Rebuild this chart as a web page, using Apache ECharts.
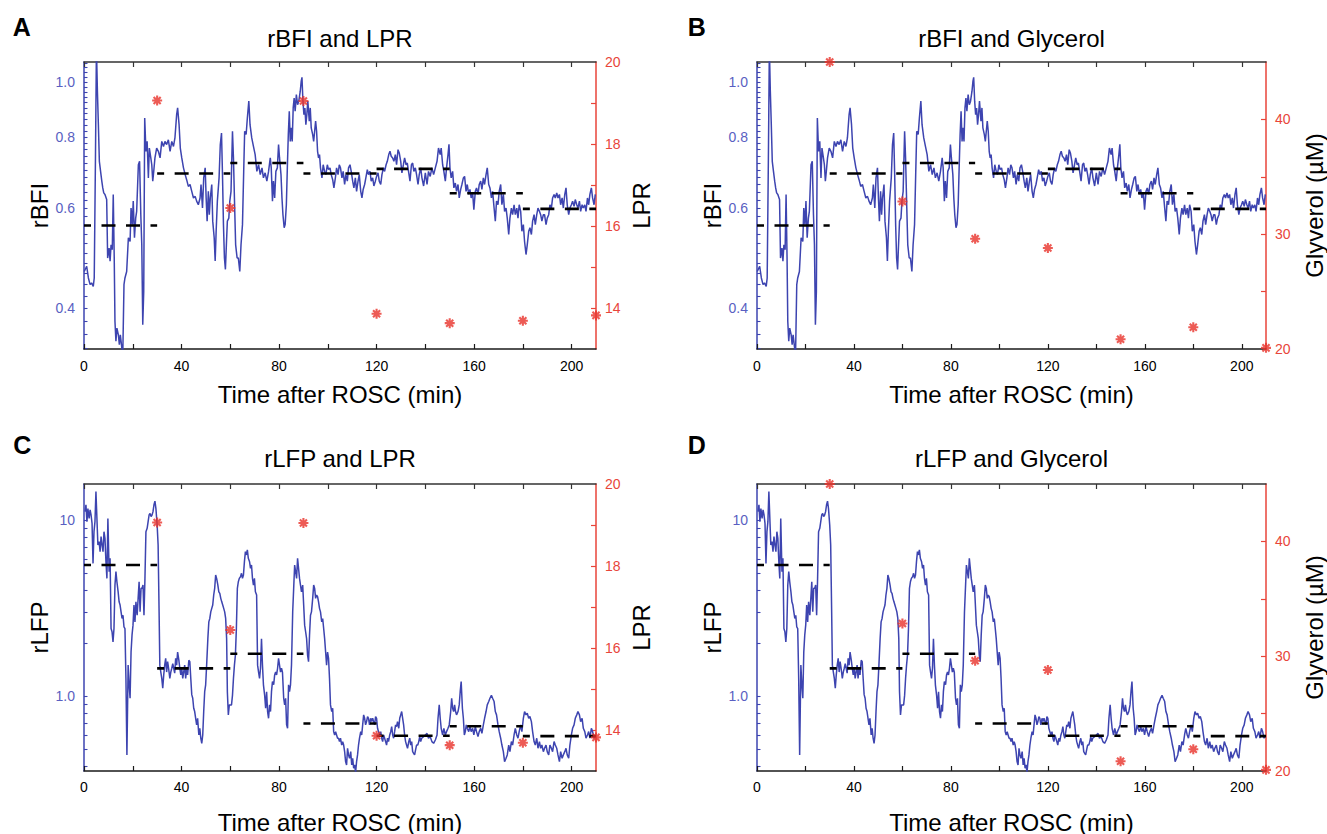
<!DOCTYPE html>
<html><head><meta charset="utf-8">
<script src="https://cdn.jsdelivr.net/npm/echarts@6/dist/echarts.min.js"></script>
<style>html,body{margin:0;padding:0;background:#fff}#c{width:1327px;height:834px}</style>
</head><body><div id="c"></div>
<script>
// ---------- DATA ----------
const rBFI_t = [0.1,1.1,1.8,2.5,3.1,3.8,4.2,4.7,5.1,5.5,5.9,6.3,6.8,7.3,7.7,8.1,8.6,9.3,9.7,10.3,10.7,11.1,11.6,12.0,12.4,12.7,13.1,13.5,14.1,14.5,14.9,15.5,15.9,16.4,16.8,17.5,18.2,18.9,19.3,19.8,20.2,20.7,21.2,21.6,22.3,22.8,23.3,23.7,24.1,24.5,24.9,25.4,25.9,26.4,26.8,27.4,27.8,28.2,28.6,29.1,29.8,30.5,31.2,31.9,32.6,33.2,33.9,34.6,35.3,36.0,36.7,37.3,38.0,38.4,39.0,39.5,40.1,40.8,41.5,42.1,42.8,43.5,44.2,44.9,45.6,46.2,46.9,47.6,48.0,48.6,49.1,49.7,50.1,50.5,51.0,51.4,51.8,52.4,52.8,53.4,53.8,54.2,54.7,55.4,55.9,56.4,56.8,57.2,57.6,58.0,58.4,58.8,59.4,59.8,60.3,60.9,61.3,61.8,62.2,62.8,63.3,63.9,64.4,65.0,65.5,65.9,66.5,67.0,67.6,68.1,68.8,69.5,70.2,70.9,71.6,72.3,73.0,73.6,74.3,75.0,75.7,76.4,76.8,77.3,77.7,78.2,78.7,79.3,79.8,80.2,80.8,81.2,81.6,82.1,82.5,83.0,83.4,83.8,84.2,84.6,85.0,85.4,85.8,86.2,86.6,87.1,87.6,88.1,88.7,89.1,89.4,89.8,90.2,90.6,91.0,91.4,91.8,92.4,92.8,93.2,93.8,94.2,94.6,95.0,95.4,95.8,96.2,96.6,97.0,97.6,98.1,98.7,99.2,99.8,100.3,100.9,101.4,102.0,102.5,103.1,103.6,104.2,104.7,105.2,105.8,106.3,106.9,107.4,108.0,108.5,109.1,109.6,110.2,110.7,111.3,111.8,112.4,112.9,113.5,114.0,114.5,115.1,115.6,116.2,116.7,117.3,117.8,118.4,118.9,119.5,120.0,120.6,121.1,121.7,122.2,122.8,123.3,123.9,124.4,125.0,125.5,126.0,126.6,127.1,127.7,128.2,128.8,129.3,129.9,130.4,131.0,131.5,132.1,132.6,133.2,133.7,134.3,134.8,135.3,135.9,136.4,137.0,137.5,138.1,138.6,139.3,140.0,140.7,141.3,142.0,142.7,143.4,144.1,144.8,145.4,146.1,146.5,147.1,147.6,148.2,148.7,149.3,149.7,150.1,150.6,151.2,151.7,152.3,152.8,153.4,153.9,154.5,155.0,155.6,156.1,156.7,157.2,157.8,158.3,158.8,159.4,159.9,160.5,161.0,161.6,162.1,162.7,163.2,163.8,164.3,164.9,165.4,166.0,166.5,167.1,167.6,168.2,168.7,169.2,169.8,170.3,170.9,171.4,172.0,172.5,173.1,173.6,174.2,174.7,175.3,175.8,176.4,176.9,177.5,178.0,178.5,179.1,179.6,180.2,180.7,181.3,181.8,182.4,182.9,183.5,184.0,184.6,185.1,185.7,186.2,186.8,187.3,187.8,188.4,188.9,189.5,190.0,190.6,191.1,191.7,192.2,192.8,193.3,193.9,194.4,195.0,195.5,196.1,196.6,197.2,197.7,198.2,198.8,199.3,199.9,200.4,201.0,201.5,202.1,202.6,203.2,203.7,204.3,204.8,205.4,205.9,206.5,207.0,207.5,208.1,208.6,209.2,209.7];
const rBFI_v = [0.464,0.474,0.452,0.440,0.443,0.437,0.452,0.735,1.15,0.963,0.841,0.725,0.696,0.669,0.651,0.638,0.634,0.621,0.490,0.510,0.484,0.517,0.507,0.634,0.490,0.379,0.350,0.369,0.359,0.345,0.359,0.341,0.330,0.440,0.452,0.464,0.532,0.524,0.600,0.561,0.617,0.532,0.576,0.592,0.715,0.725,0.584,0.517,0.374,0.428,0.864,0.755,0.786,0.678,0.765,0.735,0.715,0.669,0.696,0.735,0.765,0.755,0.735,0.786,0.770,0.786,0.776,0.791,0.755,0.786,0.770,0.797,0.876,0.900,0.841,0.765,0.735,0.706,0.687,0.673,0.655,0.660,0.642,0.625,0.629,0.617,0.608,0.625,0.660,0.600,0.678,0.706,0.625,0.569,0.642,0.584,0.625,0.660,0.569,0.532,0.484,0.546,0.617,0.678,0.776,0.813,0.687,0.561,0.490,0.468,0.517,0.569,0.576,0.617,0.642,0.819,0.735,0.600,0.517,0.490,0.490,0.464,0.517,0.561,0.696,0.819,0.808,0.864,0.925,0.841,0.797,0.770,0.745,0.696,0.715,0.687,0.706,0.678,0.692,0.669,0.696,0.735,0.706,0.617,0.669,0.625,0.696,0.706,0.776,0.735,0.687,0.625,0.584,0.554,0.561,0.608,0.706,0.808,0.888,0.786,0.830,0.786,0.900,0.937,0.888,0.950,0.912,0.925,0.963,1.003,1.019,0.925,0.876,0.900,0.841,0.876,0.925,0.853,0.900,0.830,0.808,0.786,0.819,0.853,0.819,0.755,0.735,0.745,0.706,0.678,0.715,0.696,0.687,0.715,0.701,0.706,0.687,0.673,0.651,0.678,0.706,0.687,0.715,0.706,0.678,0.696,0.660,0.687,0.669,0.706,0.715,0.696,0.669,0.651,0.678,0.642,0.669,0.687,0.642,0.625,0.647,0.660,0.678,0.701,0.687,0.696,0.669,0.678,0.656,0.669,0.682,0.692,0.669,0.660,0.687,0.706,0.696,0.715,0.725,0.745,0.755,0.740,0.735,0.725,0.745,0.715,0.760,0.750,0.725,0.692,0.715,0.735,0.715,0.720,0.692,0.669,0.715,0.720,0.696,0.706,0.687,0.660,0.687,0.706,0.678,0.656,0.692,0.660,0.696,0.682,0.706,0.687,0.706,0.725,0.765,0.745,0.765,0.715,0.696,0.669,0.706,0.745,0.777,0.706,0.678,0.696,0.651,0.664,0.642,0.660,0.625,0.647,0.660,0.678,0.682,0.642,0.660,0.634,0.647,0.625,0.638,0.596,0.642,0.651,0.634,0.660,0.669,0.647,0.678,0.660,0.687,0.706,0.660,0.651,0.625,0.642,0.600,0.569,0.617,0.608,0.642,0.660,0.608,0.634,0.592,0.600,0.576,0.539,0.576,0.600,0.584,0.608,0.584,0.600,0.576,0.608,0.592,0.546,0.561,0.524,0.497,0.517,0.546,0.554,0.539,0.569,0.584,0.561,0.584,0.600,0.592,0.584,0.569,0.584,0.584,0.561,0.576,0.584,0.608,0.600,0.625,0.634,0.625,0.638,0.625,0.634,0.608,0.625,0.600,0.634,0.651,0.608,0.584,0.600,0.608,0.617,0.604,0.621,0.608,0.600,0.617,0.592,0.608,0.600,0.608,0.592,0.625,0.608,0.634,0.651,0.625,0.608,0.634];

const rLFP_t = [0.4,0.8,1.2,1.6,2.1,2.5,2.9,3.3,3.7,4.1,4.5,4.9,5.3,5.7,6.2,6.6,7.0,7.4,7.8,8.2,8.6,9.0,9.4,9.8,10.3,10.7,11.1,11.5,11.9,12.3,12.7,13.1,13.5,14.0,14.4,14.8,15.2,15.6,16.0,16.4,16.8,17.2,17.6,18.1,18.5,18.9,19.3,19.7,20.1,20.5,20.9,21.3,21.8,22.2,22.6,23.0,23.4,23.8,24.2,24.6,25.0,25.4,25.9,26.3,26.7,27.1,27.5,27.9,28.3,28.7,29.1,29.5,30.0,30.4,30.8,31.1,31.5,31.9,32.3,32.7,33.1,33.5,33.9,34.3,34.7,35.2,35.6,36.0,36.4,36.8,37.2,37.6,38.0,38.4,38.9,39.3,39.7,40.1,40.5,40.9,41.3,41.7,42.1,42.5,43.0,43.4,43.8,44.2,44.6,45.0,45.4,45.8,46.2,46.6,47.1,47.5,47.9,48.3,48.7,49.1,49.5,49.9,50.3,50.8,51.2,51.6,52.0,52.4,52.8,53.2,53.6,54.0,54.4,54.9,55.3,55.7,56.1,56.5,56.9,57.3,57.7,58.1,58.5,58.8,59.2,59.6,60.1,60.5,60.9,61.3,61.7,62.1,62.5,62.9,63.3,63.7,64.2,64.6,65.0,65.4,65.8,66.2,66.6,67.0,67.4,67.9,68.3,68.7,69.1,69.5,69.9,70.3,70.8,71.2,71.6,72.0,72.4,72.8,73.2,73.6,74.1,74.5,74.9,75.3,75.7,76.1,76.5,76.9,77.3,77.8,78.2,78.6,79.0,79.4,79.8,80.2,80.6,81.0,81.4,81.9,82.3,82.7,83.1,83.5,83.9,84.3,84.7,85.1,85.6,86.0,86.4,86.8,87.2,87.6,88.0,88.4,88.8,89.2,89.7,90.1,90.5,90.9,91.3,91.7,92.1,92.5,92.9,93.3,93.8,94.2,94.6,95.0,95.4,95.8,96.2,96.6,97.0,97.5,97.9,98.3,98.7,99.1,99.5,99.9,100.3,100.7,101.1,101.6,102.0,102.4,102.8,103.2,103.6,104.0,104.4,104.8,105.2,105.7,106.1,106.5,106.9,107.3,107.7,108.1,108.5,108.9,109.4,109.8,110.2,110.6,111.0,111.4,111.8,112.2,112.6,113.0,113.5,113.9,114.3,114.7,115.1,115.5,115.9,116.3,116.7,117.1,117.6,118.0,118.4,118.8,119.2,119.6,120.0,120.4,120.8,121.3,121.7,122.1,122.5,122.9,123.3,123.7,124.1,124.5,124.9,125.4,125.8,126.2,126.6,127.0,127.4,127.8,128.2,128.6,129.1,129.5,129.9,130.3,130.7,131.1,131.5,131.9,132.3,132.7,133.2,133.6,134.0,134.4,134.8,135.2,135.6,136.0,136.4,136.9,137.3,137.7,138.1,138.5,139.3,140.0,140.7,141.3,142.0,142.7,143.4,144.1,144.8,145.2,145.7,146.1,146.5,147.1,147.6,148.2,148.7,149.3,149.8,150.4,150.8,151.2,151.6,152.0,152.4,152.8,153.4,153.9,154.3,154.7,155.2,155.6,156.0,156.4,156.8,157.2,157.8,158.3,158.8,159.4,159.9,160.5,161.0,161.6,162.1,162.7,163.2,163.8,164.3,164.9,165.4,166.0,166.5,167.1,167.6,168.2,168.7,169.2,169.8,170.3,170.9,171.4,172.0,172.5,173.1,173.6,174.2,174.7,175.3,175.8,176.4,176.9,177.5,178.0,178.5,179.1,179.6,180.2,180.7,181.3,181.8,182.4,182.9,183.5,184.0,184.6,185.1,185.7,186.2,186.8,187.3,187.8,188.4,188.9,189.5,190.0,190.6,191.1,191.7,192.2,192.8,193.3,193.9,194.4,195.0,195.5,196.1,196.6,197.2,197.7,198.2,198.8,199.3,199.9,200.4,201.0,201.5,202.1,202.6,203.2,203.7,204.3,204.8,205.4,205.9,206.5,207.0,207.5,208.1,208.6,209.2,209.7];
const rLFP_v = [11.15,12.2,9.78,11.6,10.2,11.4,10.67,9.57,5.67,8.58,9.78,14.5,10.2,7.21,7.53,6.61,8.04,7.21,6.61,8.58,7.87,5.80,4.66,10.2,5.09,6.06,2.42,2.32,2.03,2.42,4.27,5.09,4.46,3.91,3.43,3.29,3.01,2.76,2.88,2.47,2.42,1.26,0.464,1.50,1.16,0.973,1.78,2.22,2.53,3.29,2.64,3.43,2.88,3.59,4.46,3.01,4.09,4.09,4.27,2.88,4.66,8.58,8.97,9.78,10.67,10.9,10.45,10.67,11.15,12.2,12.8,11.6,9.36,7.21,3.01,1.50,1.37,1.26,1.11,1.32,1.50,1.64,1.37,1.57,1.44,1.26,1.37,1.44,1.53,1.44,1.35,1.64,1.50,1.78,1.60,1.44,1.32,1.44,1.26,1.37,1.50,1.26,1.44,1.32,1.60,1.57,1.26,1.02,0.973,0.854,0.818,0.749,0.687,0.749,0.602,0.657,0.577,0.540,0.602,0.818,1.06,1.16,1.50,2.12,2.64,2.76,3.01,3.15,3.29,3.75,4.09,4.87,4.66,4.27,3.91,3.83,3.59,3.43,3.29,3.15,3.01,2.76,2.12,1.06,0.783,0.892,0.892,0.892,1.01,1.26,1.50,1.71,2.42,4.09,4.46,4.66,4.77,4.98,4.66,4.87,5.80,6.61,6.33,6.76,6.06,5.80,5.31,5.55,4.66,4.27,4.66,3.91,3.75,1.50,1.37,1.26,1.44,2.12,1.50,1.16,1.01,0.854,1.06,0.818,0.749,0.892,0.818,1.06,1.21,1.16,1.32,1.37,1.32,1.44,1.64,1.50,1.37,1.44,1.37,0.973,0.892,0.973,0.687,0.657,1.16,1.06,1.16,1.50,3.01,4.09,5.55,5.09,4.66,6.06,5.31,4.66,4.27,3.91,4.27,3.29,2.53,2.32,2.12,1.71,1.57,2.22,2.88,3.01,3.59,4.27,4.09,3.59,3.75,3.67,3.43,3.15,3.01,2.64,2.76,2.42,2.12,1.78,1.50,1.78,1.64,1.26,0.892,0.818,0.854,0.629,0.602,0.629,0.602,0.577,0.577,0.552,0.577,0.528,0.552,0.528,0.484,0.425,0.407,0.506,0.464,0.444,0.484,0.407,0.444,0.390,0.407,0.370,0.425,0.464,0.528,0.577,0.629,0.602,0.687,0.783,0.749,0.687,0.717,0.766,0.749,0.687,0.749,0.717,0.749,0.717,0.687,0.766,0.749,0.657,0.629,0.602,0.629,0.577,0.552,0.602,0.577,0.552,0.528,0.577,0.552,0.602,0.629,0.672,0.602,0.577,0.629,0.687,0.672,0.717,0.657,0.749,0.783,0.818,0.749,0.687,0.602,0.552,0.528,0.506,0.552,0.577,0.528,0.552,0.484,0.474,0.464,0.495,0.528,0.528,0.552,0.589,0.552,0.577,0.589,0.602,0.615,0.577,0.589,0.552,0.540,0.564,0.602,0.749,0.892,0.749,0.657,0.602,0.657,0.602,0.629,0.657,0.687,0.818,0.973,0.854,0.818,0.892,0.818,0.783,0.818,0.892,1.06,1.21,0.854,0.749,0.602,0.629,0.687,0.657,0.629,0.672,0.629,0.657,0.602,0.672,0.629,0.589,0.629,0.657,0.615,0.687,0.749,0.818,0.892,0.932,0.973,1.01,0.973,0.932,0.818,0.783,0.687,0.629,0.577,0.528,0.484,0.425,0.444,0.464,0.528,0.484,0.552,0.528,0.602,0.657,0.602,0.577,0.629,0.687,0.629,0.749,0.818,0.783,0.800,0.749,0.766,0.717,0.629,0.552,0.528,0.577,0.506,0.552,0.506,0.528,0.484,0.506,0.528,0.484,0.464,0.528,0.506,0.484,0.552,0.528,0.506,0.464,0.425,0.484,0.444,0.464,0.484,0.506,0.464,0.444,0.528,0.602,0.657,0.687,0.749,0.783,0.818,0.783,0.717,0.749,0.657,0.629,0.577,0.602,0.629,0.577,0.657,0.629,0.577,0.602];

// piecewise (30-min) means, drawn as dashed segments
const segStart = [0, 30, 60, 90, 120, 150, 180];
const segEnd   = [30, 60, 90, 120, 150, 180, 210];
const rBFI_mean = [0.559, 0.690, 0.720, 0.690, 0.703, 0.637, 0.598];
const rLFP_mean = [5.55, 1.437, 1.741, 0.700, 0.596, 0.675, 0.593];

// microdialysis samples
const sampleT  = [30, 60, 90, 120, 150, 180, 210];
const LPR      = [19.06, 16.44, 19.05, 13.86, 13.63, 13.69, 13.82];
const glycerol = [45.0, 32.85, 29.6, 28.8, 20.85, 21.9, 20.1];

// tick values / labels
const xTicks  = [0, 20, 40, 60, 80, 100, 120, 140, 160, 180, 200];
const xLabels = [0, 40, 80, 120, 160, 200];
const rBFI_ticks  = [0.34,0.36,0.38,0.40,0.42,0.44,0.46,0.48,0.50,0.52,0.54,0.56,0.58,0.60,0.62,0.64,0.66,0.68,0.70,0.72,0.74,0.76,0.78,0.80,0.82,0.84,0.86,0.88,0.90,0.92,0.94,0.96,0.98,1.00,1.02,1.04,1.06,1.08];
const rBFI_labels = [0.4, 0.6, 0.8, 1.0];
const rLFP_ticks  = [0.4,0.5,0.6,0.7,0.8,0.9,1,2,3,4,5,6,7,8,9,10];
const rLFP_labels = [1, 10];
const LPR_ticks   = [14, 15, 16, 17, 18, 19];
const LPR_labels  = [14, 16, 18, 20];
const gly_ticks   = [25, 30, 35, 40];
const gly_labels  = [20, 30, 40];

// ---------- CHART ----------
const FONT = '"Liberation Sans", Arial, Helvetica, sans-serif';
const BLUE = '#3d44b0', BLUE_TXT = '#5a5fc2', RED = '#e8322a', RED_AX = '#e8453a';
const ASTER = 'path://M10,2.1L10,-2.1L-10,-2.1L-10,2.1Z M-2.1,10L2.1,10L2.1,-10L-2.1,-10Z M5.58,8.56L8.56,5.58L-5.58,-8.56L-8.56,-5.58Z M-8.56,5.58L-5.58,8.56L8.56,-5.58L5.58,-8.56Z';
const L10 = Math.log10;

const panels = [
  {letter:'A', title:'rBFI and LPR', g:{left:84, top:62, width:512, height:287}, lx:21.7, ly:26.7, ty:38.5,
   trace:'rBFI', right:'LPR', xGap:33, xMargin:10, lGap:31, rGap:33},
  {letter:'B', title:'rBFI and Glycerol', g:{left:757, top:62, width:509, height:287}, lx:696.8, ly:26.7, ty:38.5,
   trace:'rBFI', right:'gly', xGap:33, xMargin:10, lGap:29, rGap:36},
  {letter:'C', title:'rLFP and LPR', g:{left:84, top:484, width:512, height:287}, lx:22.3, ly:445, ty:458.7,
   trace:'rLFP', right:'LPR', xGap:39, xMargin:9, lGap:31, rGap:33},
  {letter:'D', title:'rLFP and Glycerol', g:{left:757, top:484, width:509, height:287}, lx:696.8, ly:445, ty:458.7,
   trace:'rLFP', right:'gly', xGap:39, xMargin:9, lGap:31, rGap:36}
];

const grids = [], xAxes = [], yAxes = [], series = [], graphics = [];

panels.forEach((p, i) => {
  grids.push(Object.assign({containLabel:false, outerBoundsMode:'none', show:false}, p.g));
  const isBFI = p.trace === 'rBFI';
  const tv = isBFI ? rBFI_t : rLFP_t;
  const vv = isBFI ? rBFI_v : rLFP_v;
  const means = isBFI ? rBFI_mean : rLFP_mean;
  const isLPR = p.right === 'LPR';

  xAxes.push({
    gridIndex:i, type:'value', position:'bottom', min:0, max:210,
    name:'Time after ROSC (min)', nameLocation:'middle', nameGap:p.xGap,
    nameTextStyle:{fontSize:24, color:'#000', fontFamily:FONT},
    axisLine:{show:true, onZero:false, lineStyle:{color:'#1a1a1a', width:1.5}},
    axisTick:{show:true, inside:true, length:5, customValues:xTicks, lineStyle:{color:'#1a1a1a', width:1.2}},
    axisLabel:{show:true, customValues:xLabels, margin:p.xMargin, fontSize:14, color:'#000', fontFamily:FONT},
    splitLine:{show:false}
  });
  xAxes.push({
    gridIndex:i, type:'value', position:'top', min:0, max:210,
    axisLine:{show:true, onZero:false, lineStyle:{color:'#333', width:1.5}},
    axisTick:{show:true, inside:true, length:5, customValues:xTicks, lineStyle:{color:'#333', width:1.2}},
    axisLabel:{show:false}, splitLine:{show:false}
  });
  yAxes.push({
    gridIndex:i, type:'value', position:'left',
    min: isBFI ? L10(0.339) : L10(0.376), max: isBFI ? L10(1.084) : L10(16.0),
    name: p.trace, nameLocation:'middle', nameGap:p.lGap, nameRotate:90,
    nameTextStyle:{fontSize:24, color:'#000', fontFamily:FONT},
    axisLine:{show:true, onZero:false, lineStyle:{color:BLUE, width:1.5}},
    axisTick:{show:true, inside:true, length:3.5, customValues:(isBFI ? rBFI_ticks : rLFP_ticks).map(L10), lineStyle:{color:BLUE, width:1.1}},
    axisLabel:{show:true, customValues:(isBFI ? rBFI_labels : rLFP_labels).map(L10), margin:9, fontSize:14, color:BLUE_TXT, fontFamily:FONT,
      formatter: v => { const r = Math.pow(10, v); return r >= 9.5 ? r.toFixed(0) : r.toFixed(1); }},
    splitLine:{show:false}
  });
  yAxes.push({
    gridIndex:i, type:'value', position:'right',
    min: isLPR ? 13 : 20, max: isLPR ? 20 : 45,
    name: isLPR ? 'LPR' : 'Glyverol (µM)', nameLocation:'middle', nameGap:p.rGap, nameRotate:90,
    nameTextStyle:{fontSize:24, color:'#000', fontFamily:FONT},
    axisLine:{show:true, onZero:false, lineStyle:{color:RED_AX, width:1.5}},
    axisTick:{show:true, inside:true, length:5, customValues: isLPR ? LPR_ticks : gly_ticks, lineStyle:{color:RED_AX, width:1.2}},
    axisLabel:{show:true, customValues: isLPR ? LPR_labels : gly_labels, margin:9, fontSize:14, color:RED_AX, fontFamily:FONT},
    splitLine:{show:false}
  });

  series.push({
    type:'line', xAxisIndex:2*i, yAxisIndex:2*i, data: tv.map((t, k) => [t, L10(vv[k])]),
    symbol:'none', showSymbol:false, animation:false, z:2,
    lineStyle:{color:BLUE, width:1.5}, itemStyle:{color:BLUE}
  });
  segStart.forEach((s, k) => {
    series.push({
      type:'line', xAxisIndex:2*i, yAxisIndex:2*i,
      data:[[s, L10(means[k])], [segEnd[k], L10(means[k])]],
      symbol:'none', showSymbol:false, animation:false, z:3,
      lineStyle:{color:'#000', width:2.6, type:[14, 10.5], dashOffset:7, cap:'butt'}
    });
  });
  const mv = isLPR ? LPR : glycerol;
  series.push({
    type:'scatter', xAxisIndex:2*i, yAxisIndex:2*i+1, data: sampleT.map((t, k) => [t, mv[k]]),
    symbol:ASTER, symbolSize:10, clip:false, animation:false, z:4,
    itemStyle:{color:RED}
  });

  graphics.push({type:'text', x:p.lx, y:p.ly, z:10,
    style:{text:p.letter, fontSize:25, fontWeight:'bold', fontFamily:FONT, fill:'#000', align:'center', verticalAlign:'middle', textAlign:'center', textVerticalAlign:'middle'}});
  graphics.push({type:'text', x:p.g.left + p.g.width/2, y:p.ty, z:10,
    style:{text:p.title, fontSize:24, fontFamily:FONT, fill:'#000', align:'center', verticalAlign:'middle', textAlign:'center', textVerticalAlign:'middle'}});
});

const chart = echarts.init(document.getElementById('c'), null, {renderer:'svg'});
chart.setOption({
  backgroundColor:'#fff', animation:false,
  grid:grids, xAxis:xAxes, yAxis:yAxes, series:series, graphic:graphics
});
</script></body></html>
